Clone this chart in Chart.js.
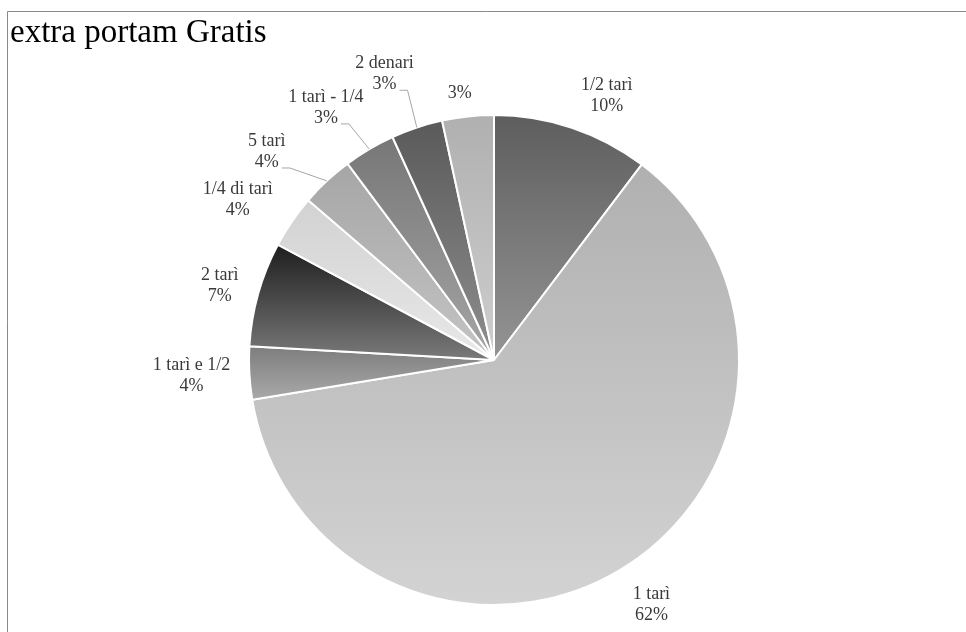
<!DOCTYPE html>
<html>
<head>
<meta charset="utf-8">
<script src="https://cdn.jsdelivr.net/npm/chart.js@4/dist/chart.umd.min.js"></script>
<style>
html,body{margin:0;padding:0;background:#fff;}
#wrap{width:966px;height:632px;position:relative;}
</style>
</head>
<body>
<div id="wrap"><canvas id="c" width="966" height="632"></canvas></div>
<script>
// ---- data ----
const chartTitle = 'extra portam Gratis';
const categories = ['1/2 tarì', '1 tarì', '1 tarì e 1/2', '2 tarì', '1/4 di tarì', '5 tarì', '1 tarì - 1/4', '2 denari', ''];
const values = [10.3, 62.1, 3.5, 6.9, 3.5, 3.5, 3.4, 3.4, 3.4];

// ---- styles / layout ----
const gradTop =    ['#5e5e5e', '#b0b0b0', '#7d7d7d', '#1e1e1e', '#d2d2d2', '#a6a6a6', '#777777', '#5a5a5a', '#b0b0b0'];
const gradBottom = ['#949494', '#d3d3d3', '#a9a9a9', '#7a7a7a', '#e8e8e8', '#c4c4c4', '#a5a5a5', '#8e8e8e', '#cecece'];
const labelNudgeDeg = [4.6, -1.6, 0, -0.6, -2.4, -4.5, -3.1, -2.6, -1.2];
const labelExtra = [42, 46, 58, 39, 57, 63, 58, 61, 24];
const hasLeader = [false, false, false, false, false, true, true, true, false];

const total = values.reduce((a, b) => a + b, 0);
const pctText = values.map(v => Math.round(v / total * 100 + 1e-9) + '%');

function sliceFill(ctx) {
  const i = ctx.dataIndex;
  const chart = ctx.chart;
  const meta = chart.getDatasetMeta(0);
  const el = meta && meta.data ? meta.data[i] : null;
  if (!el || typeof el.x !== 'number' || isNaN(el.x) || !el.outerRadius) return gradBottom[i];
  const x = el.x, y = el.y, r = el.outerRadius, a0 = el.startAngle, a1 = el.endAngle;
  const ys = [y, y + r * Math.sin(a0), y + r * Math.sin(a1)];
  for (const t of [-Math.PI / 2, Math.PI / 2, 3 * Math.PI / 2]) {
    if (t >= a0 && t <= a1) ys.push(y + r * Math.sin(t));
  }
  const y0 = Math.min(...ys), y1 = Math.max(...ys);
  const g = chart.ctx.createLinearGradient(0, y0, 0, y1);
  g.addColorStop(0, gradTop[i]);
  g.addColorStop(1, gradBottom[i]);
  return g;
}

const decor = {
  id: 'decor',
  beforeDraw(chart) {
    const c = chart.ctx;
    c.save();
    c.fillStyle = '#ffffff';
    c.fillRect(0, 0, chart.width, chart.height);
    c.restore();
  },
  afterDraw(chart) {
    const c = chart.ctx;
    c.save();
    // frame
    c.strokeStyle = '#8a8a8a';
    c.lineWidth = 1;
    c.beginPath();
    c.moveTo(7.5, chart.height);
    c.lineTo(7.5, 11.5);
    c.lineTo(chart.width, 11.5);
    c.stroke();
    // title
    c.fillStyle = '#000000';
    c.font = '33px "Liberation Serif", "Times New Roman", serif';
    c.textAlign = 'left';
    c.textBaseline = 'alphabetic';
    c.fillText(chartTitle, 10, 42);

    // labels
    const meta = chart.getDatasetMeta(0);
    c.font = '18px "Liberation Serif", "Times New Roman", serif';
    c.textAlign = 'center';
    c.textBaseline = 'middle';
    const lh = 21;
    meta.data.forEach((el, i) => {
      const mid = (el.startAngle + el.endAngle) / 2;
      const ang = mid + labelNudgeDeg[i] * Math.PI / 180;
      const d = el.outerRadius + labelExtra[i];
      const cx = el.x + Math.cos(ang) * d;
      const cy = el.y + Math.sin(ang) * d;
      const lines = categories[i] ? [categories[i], pctText[i]] : [pctText[i]];
      const startY = cy - (lines.length - 1) * lh / 2;
      c.fillStyle = '#3a3a3a';
      lines.forEach((t, k) => c.fillText(t, cx, startY + k * lh));
      if (hasLeader[i]) {
        const lastY = startY + (lines.length - 1) * lh;
        const w = c.measureText(lines[lines.length - 1]).width;
        const xr = cx + w / 2;
        const ex = el.x + Math.cos(mid) * el.outerRadius;
        const ey = el.y + Math.sin(mid) * el.outerRadius;
        c.strokeStyle = '#a6a6a6';
        c.lineWidth = 1;
        c.beginPath();
        c.moveTo(xr + 3, lastY + 5.5);
        c.lineTo(xr + 11, lastY + 5.5);
        c.lineTo(ex, ey);
        c.stroke();
      }
    });
    c.restore();
  }
};

const chart = new Chart(document.getElementById('c'), {
  type: 'pie',
  data: {
    labels: categories,
    datasets: [{
      data: values,
      backgroundColor: sliceFill,
      borderColor: '#ffffff',
      borderWidth: 2,
      hoverOffset: 0,
      offset: 0
    }]
  },
  options: {
    responsive: false,
    animation: false,
    devicePixelRatio: 1,
    events: [],
    layout: { padding: { left: 200, right: 178, top: 114, bottom: 26 } },
    plugins: {
      legend: { display: false },
      tooltip: { enabled: false },
      title: { display: false }
    }
  },
  plugins: [decor]
});
chart.update();
</script>
</body>
</html>
